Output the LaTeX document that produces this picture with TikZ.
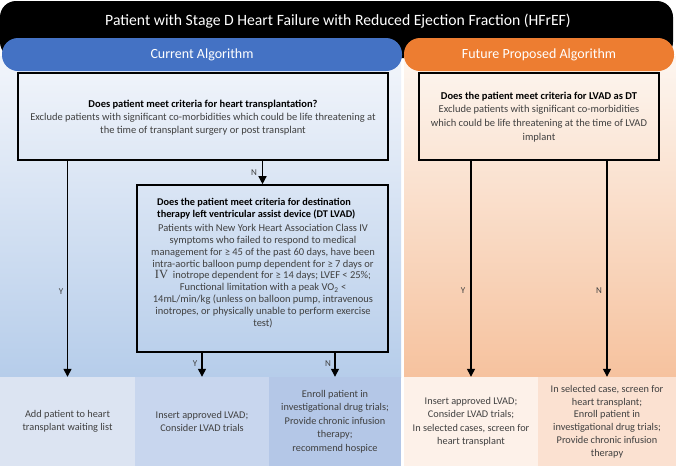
\documentclass[tikz,border=0pt]{standalone}
\usepackage{fontspec}
\setmainfont{Carlito}
\usetikzlibrary{arrows.meta}
\definecolor{pillblue}{HTML}{4472C4}
\definecolor{pillorange}{HTML}{ED7D31}
\definecolor{bodygray}{HTML}{404040}
\definecolor{lbtop}{HTML}{F2F5FB}
\definecolor{lbbot}{HTML}{B6CDEA}
\definecolor{rotop}{HTML}{FDF6F0}
\definecolor{robot}{HTML}{F6C29E}
\definecolor{cellA}{HTML}{DCE4F2}
\definecolor{cellB}{HTML}{C8D6EE}
\definecolor{cellC}{HTML}{B4C7E7}
\definecolor{cellD}{HTML}{FDF1E9}
\definecolor{cellE}{HTML}{FBE1D1}
\tikzset{
  qbox/.style={draw=black, line width=1.6pt, inner sep=0pt},
  bodytxt/.style={text=bodygray, align=center, font=\fontsize{10.5}{13}\selectfont, inner sep=0pt},
  cell/.style={inner sep=0pt, text=bodygray, align=center, font=\fontsize{10.3}{13.5}\selectfont},
  arr/.style={draw=black, line width=1.3pt, -{Triangle[width=8pt,length=8pt]}},
  lbl/.style={text=bodygray, font=\fontsize{9}{10}\selectfont, inner sep=0pt},
}
\begin{document}
\begin{tikzpicture}[x=1pt,y=-1pt]
\useasboundingbox (0,0) rectangle (676,466);
% header
\fill[black, rounded corners=16pt] (0,1) rectangle (673,58);
\node[text=white, font=\fontsize{15.7}{17}\selectfont] (title) at (338,21) {Patient with Stage D Heart Failure with Reduced Ejection Fraction (HFrEF)};
% panels
\shade[top color=lbtop, bottom color=lbbot] (0,56) rectangle (401,377);
\shade[top color=rotop, bottom color=robot] (404,56) rectangle (676,377);
% pills
\fill[pillblue, rounded corners=16pt] (2,38) rectangle (402,71);
\fill[pillorange, rounded corners=16pt] (404,38) rectangle (674,71);
\node[text=white, font=\fontsize{14}{15}\selectfont] (curalg) at (202,55) {Current Algorithm};
\node[text=white, font=\fontsize{14}{15}\selectfont] (futalg) at (539,55) {Future Proposed Algorithm};
% bottom cells
\node[cell, fill=cellA, minimum width=135pt, minimum height=89pt] (c1) at (67.5,421.5) {Add patient to heart\\transplant waiting list};
\node[cell, fill=cellB, minimum width=134pt, minimum height=89pt] (c2) at (202,421.5) {Insert approved LVAD;\\Consider LVAD trials};
\node[cell, fill=cellC, minimum width=132pt, minimum height=89pt] (c3) at (335,421.5) {Enroll patient in\\investigational drug trials;\\Provide chronic infusion\\therapy;\\recommend hospice};
\node[cell, fill=cellD, minimum width=134pt, minimum height=89pt] (c4) at (471,421.5) {Insert approved LVAD;\\Consider LVAD trials;\\In selected cases, screen for\\heart transplant};
\node[cell, fill=cellE, minimum width=138pt, minimum height=89pt, font=\fontsize{10.3}{12.8}\selectfont] (c5) at (607,421.5) {In selected case, screen for\\heart transplant;\\Enroll patient in\\investigational drug trials;\\Provide chronic infusion\\therapy};
% question boxes
\node[qbox, minimum width=370pt, minimum height=87pt] (box1) at (203,116.5) {};
\node[bodytxt] (box1txt) at (203,118) {\textbf{\color{black}Does patient meet criteria for heart transplantation?}\\Exclude patients with significant co-morbidities which could be life threatening at\\the time of transplant surgery or post transplant};
\node[qbox, minimum width=240pt, minimum height=87pt] (box3) at (539,116.5) {};
\node[bodytxt, font=\fontsize{10.5}{13.7}\selectfont] (box3txt) at (539,117) {\textbf{\color{black}Does the patient meet criteria for LVAD as DT}\\Exclude patients with significant co-morbidities\\which could be life threatening at the time of LVAD\\implant};
\node[qbox, minimum width=251pt, minimum height=167pt] (box2) at (262.5,268.5) {};
\node[inner sep=0pt, align=left, anchor=west, font=\fontsize{10.3}{12.2}\selectfont\bfseries] (box2title) at (157,209) {Does the patient meet criteria for destination\\therapy left ventricular assist device (DT LVAD)};
\node[bodytxt, font=\fontsize{10.5}{11.9}\selectfont] (box2body) at (263,276) {Patients with New York Heart Association Class IV\\symptoms who failed to respond to medical\\management for ≥ 45 of the past 60 days, have been\\intra-aortic balloon pump dependent for ≥ 7 days or\\{\fontspec{Liberation Serif}\fontsize{12.5}{12}\selectfont IV}\ \ inotrope dependent for ≥ 14 days; LVEF < 25\%;\\Functional limitation with a peak VO\textsubscript{2} <\\14mL/min/kg (unless on balloon pump, intravenous\\inotropes, or physically unable to perform exercise\\test)};
% connectors
\draw[arr] (box1.south -| c1.north) -- (c1.north);
\draw[arr] (box1.south -| box2.north) -- (box2.north);
\draw[arr] (box2.south -| c2.north) -- (c2.north);
\draw[arr] (box2.south -| c3.north) -- (c3.north);
\draw[arr] (box3.south -| c4.north) -- (c4.north);
\draw[arr] (box3.south -| c5.north) -- (c5.north);
% labels
\node[lbl] (ly1) at (61,292) {Y};
\node[lbl] (ln1) at (254,173) {N};
\node[lbl] (ly2) at (195,364) {Y};
\node[lbl] (ln2) at (328,364) {N};
\node[lbl] (ly3) at (463,291) {Y};
\node[lbl] (ln3) at (599,291) {N};
\end{tikzpicture}
\end{document}
